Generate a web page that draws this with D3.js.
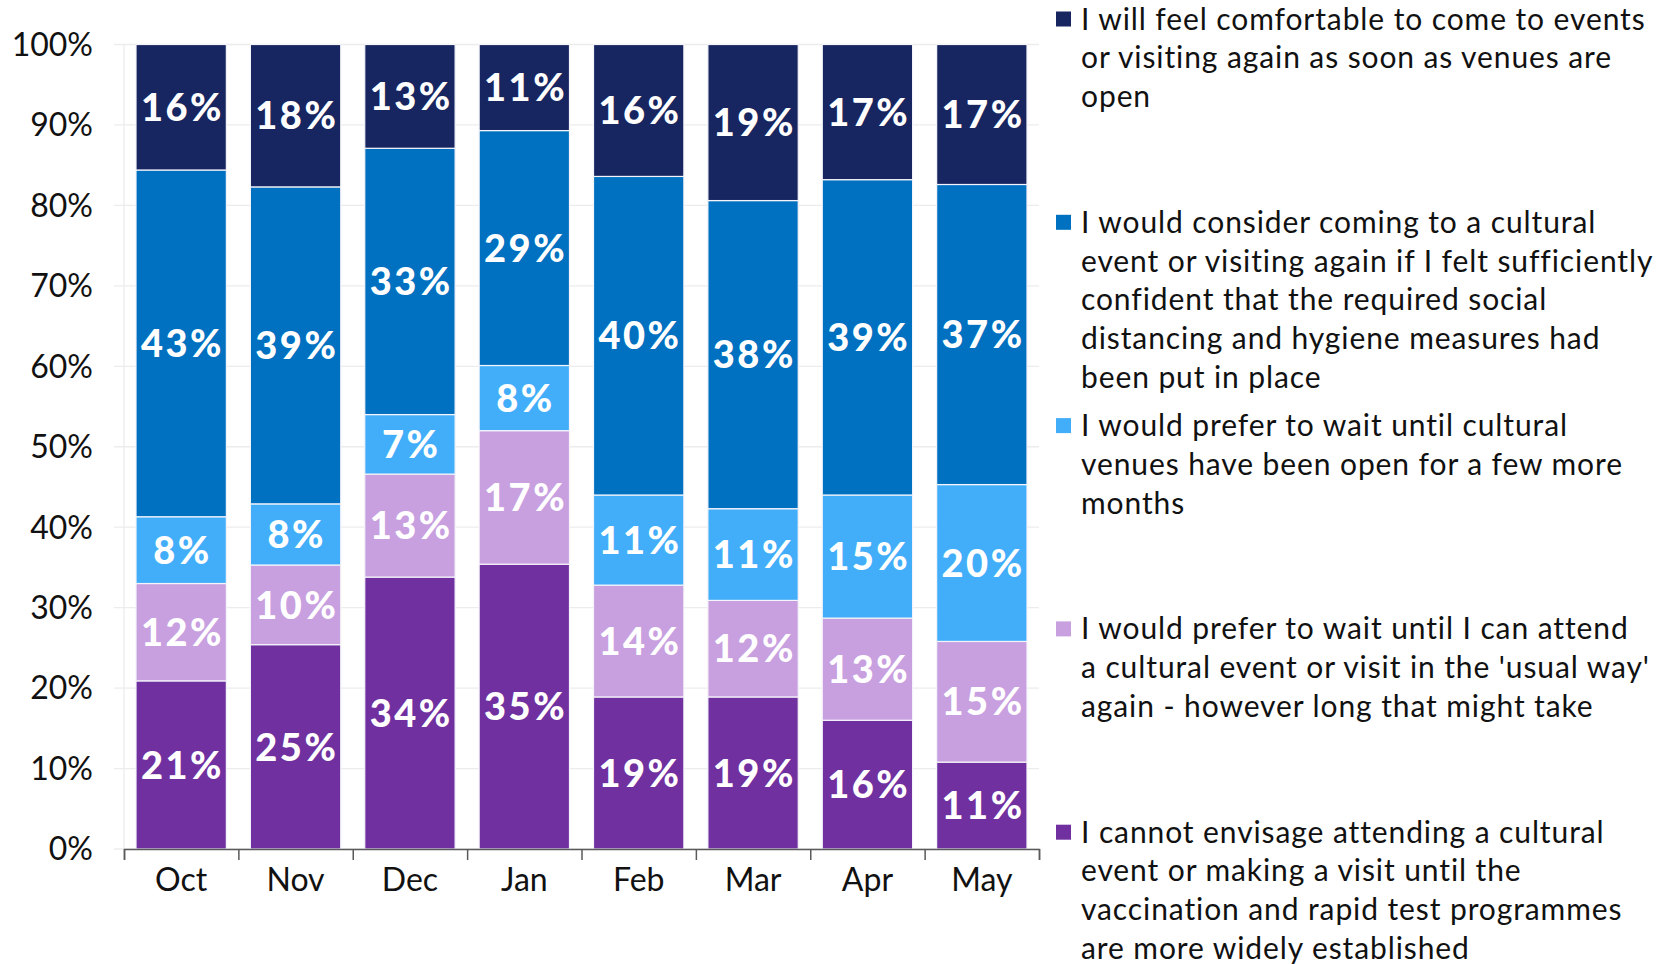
<!DOCTYPE html>
<html>
<head>
<meta charset="utf-8">
<script src="https://cdn.jsdelivr.net/npm/d3@7"></script>
<style>
  body { margin: 0; background: #fff; }
  svg { display: block; font-family: Lato, "Noto Sans", sans-serif; }
  .grid line { stroke: #ececec; stroke-width: 1.3; }
  .axis--y path, .axis--y line { display: none; }
  .axis--x path { stroke: #5a5a5a; stroke-width: 1.5; }
  .axis--x line { stroke: #5a5a5a; stroke-width: 1.5; }
</style>
</head>
<body>
<svg width="1667" height="964"></svg>
<script>
// months on the x axis
const months = ["Oct", "Nov", "Dec", "Jan", "Feb", "Mar", "Apr", "May"];

// share of respondents (%), bottom segment first
const cannotEnvisage = [20.9, 25.4, 33.8, 35.4, 18.9, 18.9, 16.0, 10.8];
const waitUsualWay   = [12.1, 9.9, 12.8, 16.6, 13.9, 12.0, 12.7, 15.0];
const waitFewMonths  = [8.3, 7.6, 7.4, 8.1, 11.2, 11.4, 15.3, 19.5];
const considerComing = [43.1, 39.4, 33.1, 29.2, 39.6, 38.3, 39.2, 37.3];
const comfortable    = [15.6, 17.7, 12.9, 10.7, 16.4, 19.4, 16.8, 17.4];

const yTicks = [0, 10, 20, 30, 40, 50, 60, 70, 80, 90, 100];

// legend text, top to bottom
const legendItems = [
  { key: "comfortable", lines: ["I will feel comfortable to come to events", "or visiting again as soon as venues are", "open"] },
  { key: "consider", lines: ["I would consider coming to a cultural", "event or visiting again if I felt sufficiently", "confident that the required social", "distancing and hygiene measures had", "been put in place"] },
  { key: "fewMonths", lines: ["I would prefer to wait until cultural", "venues have been open for a few more", "months"] },
  { key: "usualWay", lines: ["I would prefer to wait until I can attend", "a cultural event or visit in the 'usual way'", "again - however long that might take"] },
  { key: "cannot", lines: ["I cannot envisage attending a cultural", "event or making a visit until the", "vaccination and rapid test programmes", "are more widely established"] }
];

const keys = ["cannot", "usualWay", "fewMonths", "consider", "comfortable"];
const colors = {
  cannot: "#7030a0",
  usualWay: "#c8a0e0",
  fewMonths: "#42aefa",
  consider: "#0070c0",
  comfortable: "#172660"
};

// build a row per month for d3.stack
const table = months.map((m, i) => ({
  month: m,
  cannot: cannotEnvisage[i],
  usualWay: waitUsualWay[i],
  fewMonths: waitFewMonths[i],
  consider: considerComing[i],
  comfortable: comfortable[i]
}));

const svg = d3.select("svg");
const plotLeft = 124, plotRight = 1039, plotTop = 44.5, plotBottom = 849;

const x = d3.scaleBand().domain(months).range([plotLeft, plotRight])
  .paddingInner(0.21).paddingOuter(0.105);
const y = d3.scaleLinear().domain([0, 100]).range([plotBottom, plotTop]);

// gridlines
svg.append("g").attr("class", "grid")
  .selectAll("line").data(yTicks).enter().append("line")
  .attr("x1", plotLeft - 10).attr("x2", plotRight)
  .attr("y1", d => y(d)).attr("y2", d => y(d));
svg.append("line")
  .attr("x1", plotLeft).attr("x2", plotLeft).attr("y1", plotTop).attr("y2", plotBottom)
  .attr("stroke", "#ececec").attr("stroke-width", 1.3);

// y axis labels
svg.append("g")
  .attr("class", "axis axis--y")
  .attr("transform", "translate(" + plotLeft + ",0)")
  .call(d3.axisLeft(y).tickValues(yTicks).tickFormat(d => d + "%").tickSize(0).tickPadding(31))
  .selectAll("text")
  .attr("font-size", 32).attr("font-family", "Lato, sans-serif").attr("fill", "#111")
  .attr("dy", "0.34em");

// stacked bars
const stacked = d3.stack().keys(keys)(table);
const layers = svg.selectAll(".layer").data(stacked).enter().append("g")
  .attr("class", "layer")
  .attr("fill", d => colors[d.key]);

layers.selectAll("rect").data(d => d).enter().append("rect")
  .attr("x", d => x(d.data.month))
  .attr("y", d => y(d[1]))
  .attr("width", x.bandwidth())
  .attr("height", d => y(d[0]) - y(d[1]))
  .attr("stroke", "#f4f4fa").attr("stroke-width", 1.2);

// value labels (letter-spacing adds a trailing gap, so nudge right by half of it)
const labelSpacing = 2.5;
layers.selectAll("text").data(d => d.map(p => ({ p, key: d.key }))).enter().append("text")
  .attr("x", d => x(d.p.data.month) + x.bandwidth() / 2 + labelSpacing / 2)
  .attr("y", d => (y(d.p[0]) + y(d.p[1])) / 2)
  .attr("dy", "0.36em")
  .attr("text-anchor", "middle")
  .attr("fill", "#fff")
  .attr("font-size", 38)
  .attr("font-weight", 900)
  .attr("letter-spacing", labelSpacing)
  .text(d => Math.round(d.p.data[d.key]) + "%");

// x axis: boundary ticks
const xEdges = d3.scaleLinear().domain([0, months.length]).range([plotLeft, plotRight]);
svg.append("g")
  .attr("class", "axis axis--x")
  .attr("transform", "translate(0," + plotBottom + ")")
  .call(d3.axisBottom(xEdges).ticks(months.length).tickSize(11).tickSizeOuter(11).tickFormat(""));

// x axis labels
svg.append("g")
  .attr("transform", "translate(0," + plotBottom + ")")
  .call(d3.axisBottom(x).tickSize(0).tickPadding(19))
  .call(g => g.select(".domain").remove())
  .selectAll("text")
  .attr("font-size", 32).attr("font-family", "Lato, sans-serif").attr("fill", "#111");

// legend
const legend = svg.append("g").attr("class", "legend");
const item = legend.selectAll("g").data(legendItems).enter().append("g")
  .attr("transform", (d, i) => "translate(1056," + (29.5 + i * 203.3) + ")");
item.append("rect")
  .attr("x", 0).attr("y", -18).attr("width", 15).attr("height", 15)
  .attr("fill", d => colors[d.key]);
item.append("text")
  .attr("font-size", 30).attr("fill", "#111")
  .attr("letter-spacing", 0.9)
  .selectAll("tspan").data(d => d.lines).enter().append("tspan")
  .attr("x", 25).attr("y", (d, i) => i * 38.8)
  .text(d => d);
</script>
</body>
</html>
